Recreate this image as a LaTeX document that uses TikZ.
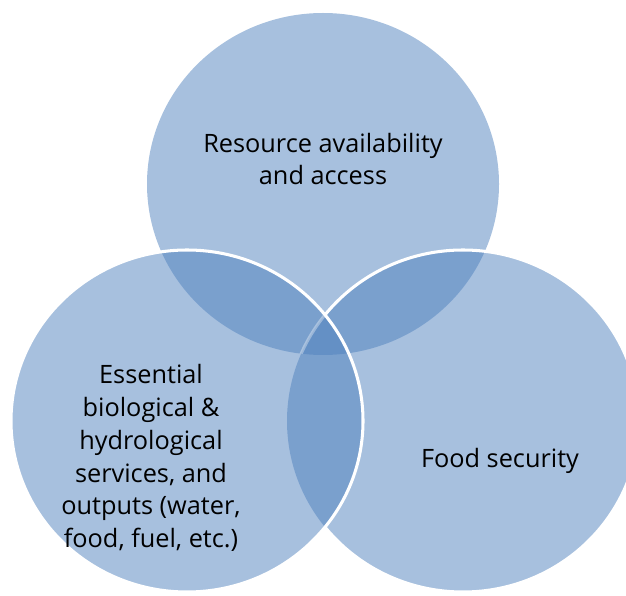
\documentclass[tikz,border=0pt]{standalone}
\usepackage{fontspec}
\setmainfont{Open Sans}
\definecolor{vennblue}{HTML}{4F81BD}
\tikzset{
  venn/.style={fill=vennblue, fill opacity=.5},
  rim/.style={draw=white, line width=2.6pt},
  venntext/.style={align=center, text=black, font=\fontsize{21.6}{28}\selectfont},
}
\begin{document}
\begin{tikzpicture}[x=0.03cm,y=-0.03cm]  % ------ three circles -----------------
    \useasboundingbox (0,0) rectangle (626,595);
    \def\rx{176} \def\ry{171}
    \fill [venn] (323,184) ellipse [x radius=\rx, y radius=\ry];
    \fill [venn] (463,421) ellipse [x radius=\rx, y radius=\ry];
    \fill [venn] (187,421) ellipse [x radius=\rx, y radius=\ry];
    % rim of the right circle, only where the left one does not cover it
    \begin{scope}[even odd rule]
      \clip (0,0) rectangle (626,595)
            (187,421) ellipse [x radius=\rx, y radius=\ry];
      \draw [rim] (463,421) ellipse [x radius=\rx, y radius=\ry];
    \end{scope}
    \begin{scope}
      \clip (187,421) ellipse [x radius=\rx, y radius=\ry];
      \clip (323,184) ellipse [x radius=\rx, y radius=\ry];
      \draw [rim, draw opacity=.35] (463,421) ellipse [x radius=\rx, y radius=\ry];
    \end{scope}
    \draw [rim] (187,421) ellipse [x radius=\rx, y radius=\ry];
    % texts
    \node [venntext] (access) at (323,159) {Resource availability\\and access};
    \node [venntext] (services) at (151,458) {Essential\\biological \&\\hydrological\\services, and\\outputs (water,\\food, fuel, etc.)};
    \node [venntext] (food) at (500,461) {Food security};
\end{tikzpicture}
\end{document}
